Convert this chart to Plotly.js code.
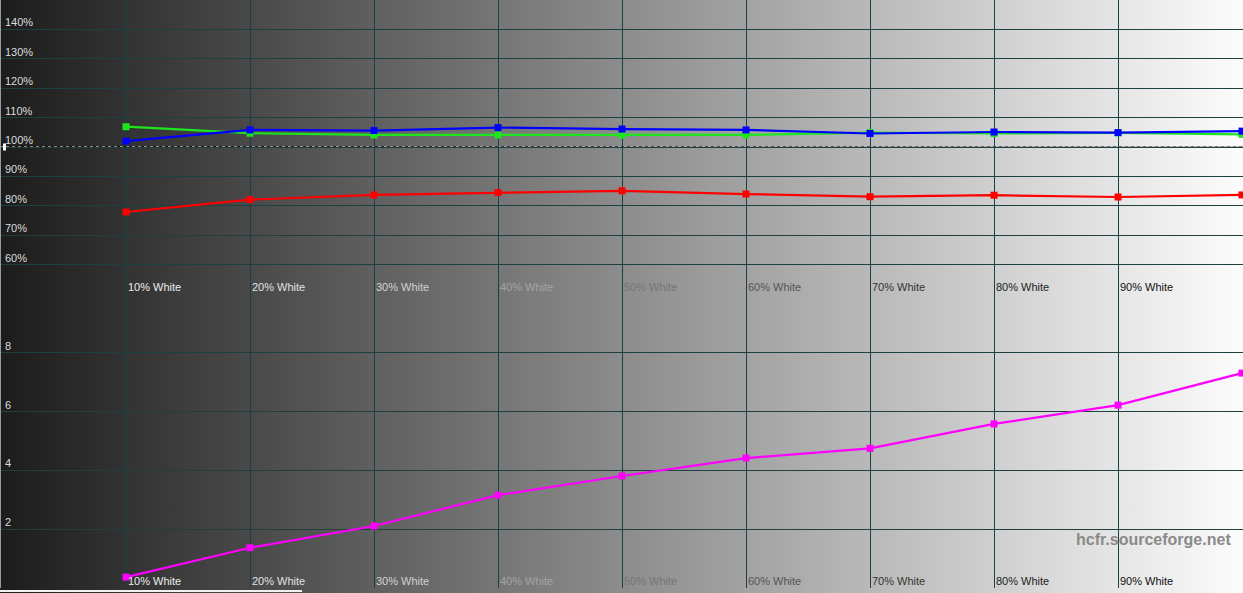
<!DOCTYPE html>
<html>
<head>
<meta charset="utf-8">
<script src="https://cdn.plot.ly/plotly-3.0.1.min.js"></script>
<style>
html,body{margin:0;padding:0;overflow:hidden;}
#chart{width:1243px;height:593px;background:linear-gradient(to right,#1c1c1c 0%,#fcfcfc 100%);}
</style>
</head>
<body>
<div id="chart"></div>
<script>
// ---- data ----
const levels = [10, 20, 30, 40, 50, 60, 70, 80, 90, 100];
const categoryLabels = ["10% White", "20% White", "30% White", "40% White", "50% White", "60% White", "70% White", "80% White", "90% White"];
const redLevel   = [77.9, 82.1, 83.7, 84.5, 85.1, 84.0, 83.1, 83.6, 83.0, 83.7];
const greenLevel = [106.9, 104.7, 104.1, 104.1, 104.0, 104.1, 104.9, 104.6, 104.8, 104.3];
const blueLevel  = [102.0, 105.8, 105.6, 106.6, 106.1, 105.8, 104.6, 105.1, 104.9, 105.4];
const deltaE     = [0.37, 1.37, 2.11, 3.16, 3.81, 4.42, 4.75, 5.58, 6.22, 7.31];
const pctTicks   = [60, 70, 80, 90, 100, 110, 120, 130, 140];
const dETicks    = [2, 4, 6, 8];
const reference  = 100;

// ---- styles ----
const labelColors = ["#ececec", "#e2e2e2", "#d2d2d2", "#a4a4a4", "#767676", "#555555", "#333333", "#222222", "#111111"];
const gridColor = "#1d4040";
const font = "Liberation Sans, Arial, sans-serif";

function lineTrace(y, color, yaxis) {
  return {
    x: levels, y: y, type: "scatter", mode: "lines+markers", yaxis: yaxis,
    line: {color: color, width: 2.2},
    marker: {symbol: "square", size: 7, color: color},
    hoverinfo: "skip", cliponaxis: false
  };
}

const data = [
  lineTrace(redLevel, "#ff0000", "y"),
  lineTrace(greenLevel, "#1ee61e", "y"),
  lineTrace(blueLevel, "#0000ff", "y"),
  lineTrace(deltaE, "#ff00ff", "y2")
];

const annotations = [];
pctTicks.forEach(v => annotations.push({
  x: 0, xref: "paper", y: v, yref: "y", text: v + "%", showarrow: false,
  xanchor: "left", yanchor: "middle", xshift: 3, yshift: 7,
  font: {family: font, size: 11, color: "#dcdcdc"}
}));
dETicks.forEach(v => annotations.push({
  x: 0, xref: "paper", y: v, yref: "y2", text: String(v), showarrow: false,
  xanchor: "left", yanchor: "middle", xshift: 3, yshift: 7,
  font: {family: font, size: 11, color: "#dcdcdc"}
}));
categoryLabels.forEach((t, i) => {
  annotations.push({
    x: levels[i], xref: "x", y: 52.4, yref: "y", text: t, showarrow: false,
    xanchor: "left", yanchor: "middle", xshift: 0,
    font: {family: font, size: 11, color: labelColors[i]}
  });
  annotations.push({
    x: levels[i], xref: "x", y: 0.24, yref: "y2", text: t, showarrow: false,
    xanchor: "left", yanchor: "middle", xshift: 0,
    font: {family: font, size: 11, color: labelColors[i]}
  });
});
annotations.push({
  x: 0.992, xref: "paper", y: 0.082, yref: "paper", text: "<b>hcfr.sourceforge.net</b>",
  showarrow: false, xanchor: "right", yanchor: "middle",
  font: {family: font, size: 16, color: "#8a8a8a"}
});

const shapes = [
  {type: "line", xref: "paper", x0: 0, x1: 1, yref: "y", y0: reference, y1: reference,
   line: {color: "#000000", width: 1}, layer: "below"},
  {type: "line", xref: "paper", x0: 0, x1: 1, yref: "y", y0: reference, y1: reference,
   line: {color: "#ffffff", width: 1, dash: "3px,3px"}, layer: "below"},
  {type: "rect", xref: "paper", x0: 0.0024, x1: 0.0048, yref: "y", y0: 98.8, y1: 101.2,
   line: {width: 0}, fillcolor: "#ffffff", layer: "above"},
  {type: "line", xref: "paper", x0: 0, x1: 0, yref: "paper", y0: 0, y1: 1,
   line: {color: "#9a9a9a", width: 2}, layer: "above"},
  {type: "line", xref: "paper", x0: 0, x1: 0.243, yref: "paper", y0: -0.005, y1: -0.005,
   line: {color: "#f0f0f0", width: 2}, layer: "above"}
];

const layout = {
  width: 1243, height: 593,
  margin: {l: 0, r: 0, t: 0, b: 5, pad: 0},
  paper_bgcolor: "rgba(0,0,0,0)", plot_bgcolor: "rgba(0,0,0,0)",
  showlegend: false,
  xaxis: {range: [-0.161, 100.08], tickvals: levels.slice(0, 9), showticklabels: false,
          showgrid: true, gridcolor: gridColor, gridwidth: 1, zeroline: false,
          ticks: "", showline: false, anchor: "y2", fixedrange: true},
  yaxis: {domain: [0.5, 1], range: [50, 150], tickvals: pctTicks, showticklabels: false,
          showgrid: true, gridcolor: gridColor, gridwidth: 1, zeroline: false, ticks: "",
          showline: false, fixedrange: true},
  yaxis2: {domain: [0, 0.5], range: [0, 10], tickvals: dETicks, showticklabels: false,
           showgrid: true, gridcolor: gridColor, gridwidth: 1, zeroline: false, ticks: "",
           showline: false, fixedrange: true},
  annotations: annotations,
  shapes: shapes
};

Plotly.newPlot("chart", data, layout, {displayModeBar: false, staticPlot: true});
</script>
</body>
</html>
